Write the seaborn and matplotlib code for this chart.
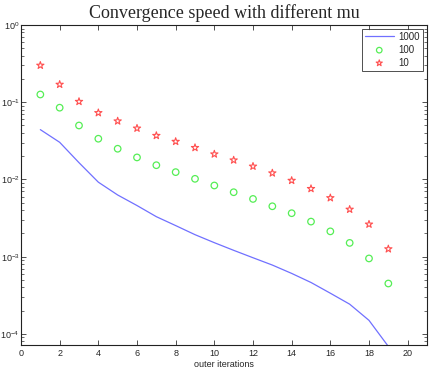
import matplotlib
matplotlib.use("Agg")
import matplotlib.pyplot as plt
import seaborn as sns
import pandas as pd
import numpy as np
from matplotlib.ticker import LogLocator, NullFormatter, MultipleLocator

iters = list(range(1, 20))
mu1000 = [0.0442, 0.0303, 0.0165, 0.00923, 0.0063, 0.0046, 0.0033, 0.00253, 0.00193,
          0.00152, 0.00121, 0.00097, 0.00078, 0.000608, 0.000464, 0.000337, 0.000243,
          0.000150, 0.000069]
mu100 = [0.126, 0.085, 0.050, 0.0337, 0.025, 0.0193, 0.0153, 0.01245, 0.0102,
         0.00836, 0.00684, 0.0056, 0.0045, 0.00366, 0.00285, 0.00213, 0.00151,
         0.00095, 0.00045]
mu10 = [0.30, 0.17, 0.102, 0.073, 0.057, 0.046, 0.037, 0.031, 0.0258,
        0.0213, 0.0178, 0.0148, 0.0121, 0.0097, 0.0076, 0.00578, 0.0041,
        0.00263, 0.00126]
labels = ["1000", "100", "10"]

sns.set_style("ticks")
plt.rcParams['font.family'] = ['Liberation Sans', 'DejaVu Sans']
plt.rcParams['mathtext.fontset'] = 'custom'
plt.rcParams['mathtext.rm'] = 'Liberation Sans'
plt.rcParams['mathtext.it'] = 'Liberation Sans'

fig = plt.figure(figsize=(4.39, 3.73), dpi=100)
ax = fig.add_axes([21/439, 1-345/373, (427-21)/439, (345-25)/373])

df1 = pd.DataFrame({"x": iters, "y": mu1000})
df2 = pd.DataFrame({"x": iters, "y": mu100})
df3 = pd.DataFrame({"x": iters, "y": mu10})

sns.lineplot(data=df1, x="x", y="y", ax=ax, color="#7070ff", lw=0.9, label=labels[0])
sns.scatterplot(data=df2, x="x", y="y", ax=ax, marker="o", s=22, facecolor="none",
                edgecolor="#55ee55", linewidth=0.9, label=labels[1])
sns.scatterplot(data=df3, x="x", y="y", ax=ax, marker="*", s=30, facecolor="none",
                edgecolor="#ff5050", linewidth=0.8, label=labels[2])

ax.set_yscale("log")
ax.set_xlim(0, 21)
ax.set_ylim(10**(-4 - 11/77), 1.0)
ax.xaxis.set_major_locator(MultipleLocator(2))
ax.yaxis.set_major_locator(LogLocator(base=10, numticks=10))
ax.yaxis.set_minor_locator(LogLocator(base=10, subs=np.arange(2, 10), numticks=20))
ax.yaxis.set_minor_formatter(NullFormatter())
ax.tick_params(which="both", direction="in", top=True, right=True, labelsize=6.5,
               color="#333333")
ax.tick_params(which="major", length=3.5, width=0.6)
ax.tick_params(which="minor", length=2, width=0.5)
ax.tick_params(axis="y", pad=1)
ax.tick_params(axis="x", pad=3)
for s in ax.spines.values():
    s.set_linewidth(0.8)
    s.set_color("#222222")

ax.set_xlabel("outer iterations", fontsize=6.5, labelpad=1)
ax.set_ylabel("")
ax.set_title("Convergence speed with different mu", fontsize=13,
             family=["Liberation Serif", "DejaVu Serif"], pad=5)

leg = ax.legend(loc="upper right", fontsize=7, frameon=True, fancybox=False,
                edgecolor="#222222", borderaxespad=0.4, handlelength=3.0,
                labelspacing=0.3, borderpad=0.3, handletextpad=0.5,
                markerscale=0.85)
leg.get_frame().set_linewidth(0.7)

fig.savefig("out.png", dpi=100)
